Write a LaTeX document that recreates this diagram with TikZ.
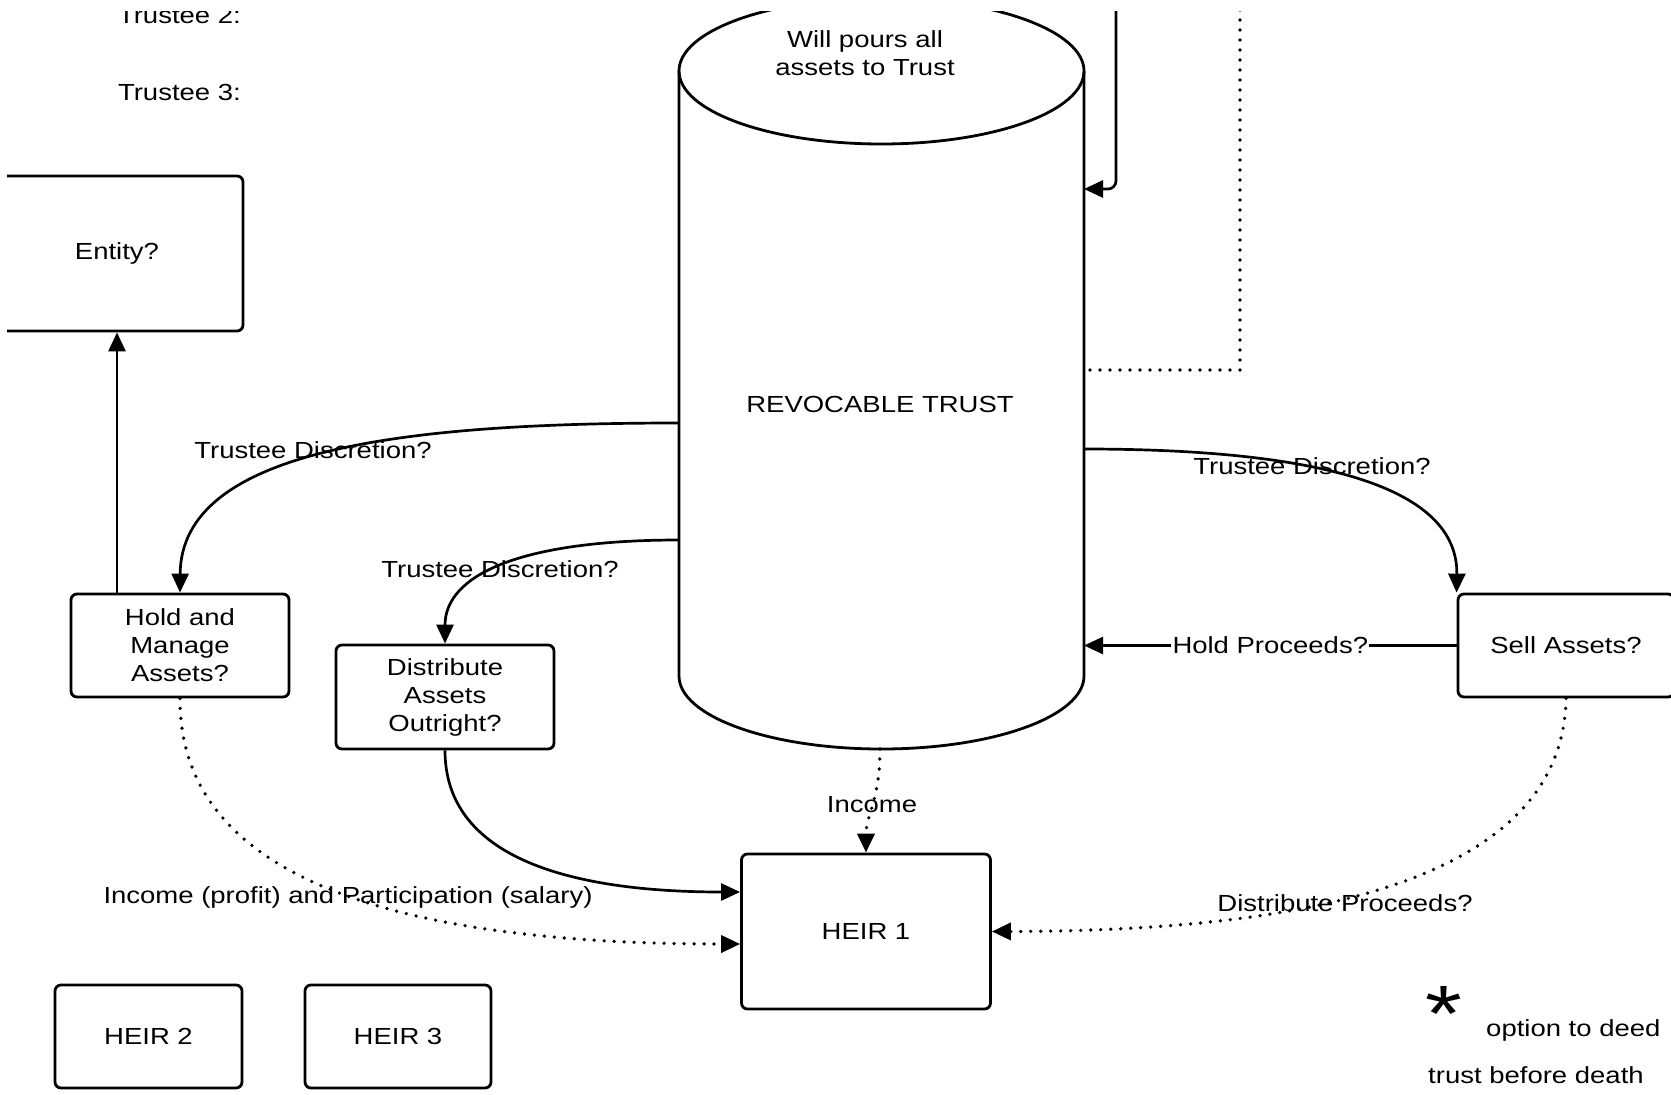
\documentclass[tikz,border=0pt]{standalone}
\usepackage{fontspec}
\setmainfont[FakeStretch=1.18]{Liberation Sans}
\usetikzlibrary{arrows.meta,calc}
\begin{document}
\begin{tikzpicture}[x=1pt,y=-1pt,
  every node/.style={font=\fontsize{23.3}{28}\selectfont, inner sep=0pt},
  box/.style={draw, line width=2.8pt, rounded corners=6pt, align=center},
  ln/.style={line width=2.8pt},
  arr/.style={line width=2.7pt, -{Triangle[length=19pt,width=17pt]}},
  dotline/.style={line width=3.7pt, line cap=round, dash pattern=on 0pt off 10pt},
  dots/.style={dotline, -{Triangle[length=19pt,width=17pt]}},
]
\fill[white] (0,0) rectangle (1671,1095);
\useasboundingbox (0,0) rectangle (1671,1095);
\begin{scope}
\clip (7,11) rectangle (1671,1095);
% cylinder
\draw[ln] (881.5,71) ellipse [x radius=202.5, y radius=73];
\draw[ln] (679,71) -- (679,676) arc[start angle=180, end angle=0, x radius=202.5, y radius=73] -- (1084,71);
\coordinate (cL1) at (679,423);
\coordinate (cL2) at (679,540);
\coordinate (cR1) at (1084,449);
\coordinate (cR2) at (1084,645.5);
\coordinate (cR3) at (1084,189);
\coordinate (cR4) at (1084,370);
\coordinate (cB) at (880,749);
\coordinate (topA) at (1116,0);
\coordinate (topB) at (1240,0);
% boxes
\node[box, minimum width=252pt, minimum height=155pt] (entity) at (117,253.5) {Entity?};
\node[box, minimum width=218pt, minimum height=103pt] (hold) at (180,645.5) {Hold and\\Manage\\Assets?};
\node[box, minimum width=218pt, minimum height=104pt] (dist) at (445,697) {Distribute\\Assets\\Outright?};
\node[box, minimum width=216pt, minimum height=103pt] (sell) at (1566,645.5) {Sell Assets?};
\node[box, minimum width=249pt, minimum height=155pt] (heir1) at (866,931.5) {HEIR 1};
\node[box, minimum width=187pt, minimum height=103pt] (heir2) at (148.5,1036.5) {HEIR 2};
\node[box, minimum width=186pt, minimum height=103pt] (heir3) at (398,1036.5) {HEIR 3};
% texts
\node[anchor=base east] (t2) at (241,23) {Trustee 2:};
\node[anchor=base east] (t3) at (241,100) {Trustee 3:};
\node[align=center] (will) at (865,53) {Will pours all\\assets to Trust};
\node[anchor=base] (rev) at (880,412) {REVOCABLE TRUST};
% connectors
\draw[arr] (hold.north -| entity.south) -- (entity.south);
\draw[arr] (cL1) .. controls (400,423) and (181,450) .. (hold.north);
\node[anchor=base] (td1) at (313,458) {Trustee Discretion?};
\draw[arr] (cL2) .. controls (520,540) and (445,575) .. (dist.north);
\node[anchor=base] (td2) at (500,577) {Trustee Discretion?};
\draw[arr] (cR1) .. controls (1330,449) and (1458,490) .. (sell.north west);
\node[anchor=base] (td3) at (1312,474) {Trustee Discretion?};
\draw[arr] (sell.west) -- node[fill=white, inner xsep=1pt] (hp) {Hold Proceeds?} (cR2);
\draw[arr, rounded corners=8pt] (topA) -- (topA |- cR3) -- (cR3);
\draw[dotline] (topB) -- (topB |- cR4) -- (cR4);
\draw[dots] (cB) .. controls (880,800) and (866,815) .. (heir1.north);
\node[anchor=base] (inc) at (872,812) {Income};
\draw[arr] (dist.south) .. controls (445,870) and (600,892) .. ([yshift=39.5pt]heir1.west);
\draw[dots] (hold.south) .. controls (179,880) and (400,944) .. ([yshift=-12.5pt]heir1.west);
\node[anchor=base] (ipp) at (348,903) {Income (profit) and Participation (salary)};
\draw[dots] (sell.south) .. controls (1563,900) and (1250,931) .. (heir1.east);
\node[anchor=base] (dp) at (1345,911) {Distribute Proceeds?};
\end{scope}
\node[font=\fontsize{80}{80}\selectfont, anchor=north] (ast) at (1444,986) {*};
\node[anchor=base west] (opt) at (1486,1036) {option to deed};
\node[anchor=base west] (tbd) at (1428,1083) {trust before death};
\end{tikzpicture}
\end{document}
